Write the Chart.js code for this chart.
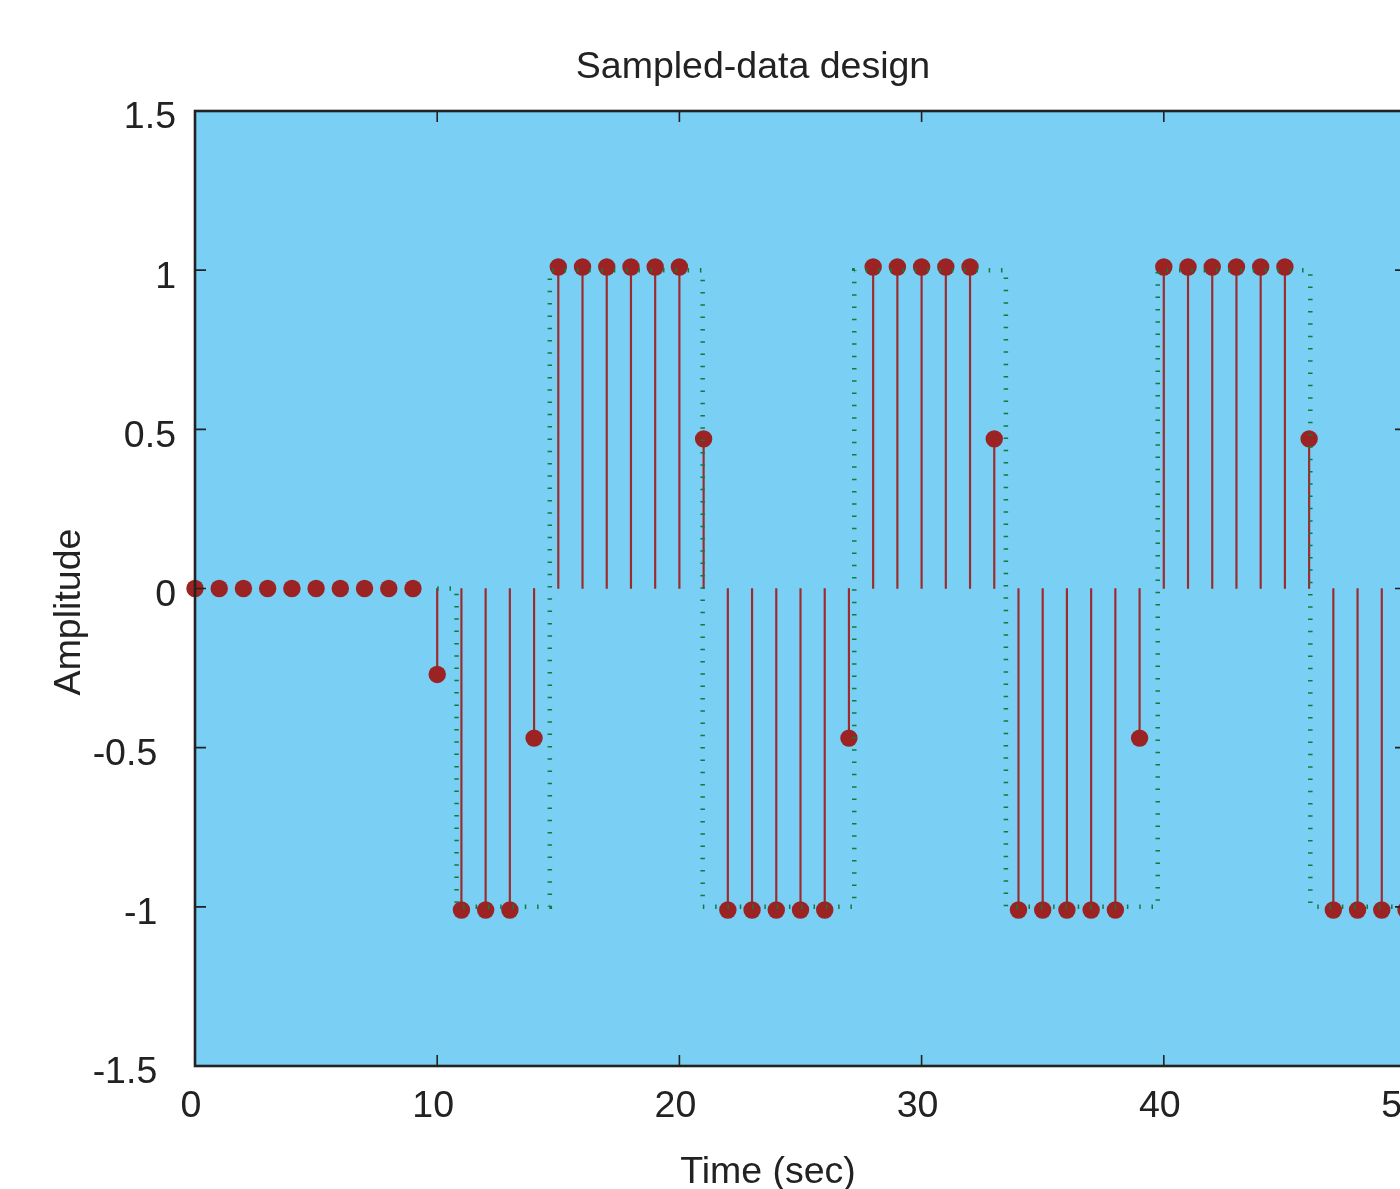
<!DOCTYPE html>
<html>
<head>
<meta charset="utf-8">
<script src="https://cdn.jsdelivr.net/npm/chart.js@4.4.1/dist/chart.umd.min.js"></script>
<style>
  html, body { margin: 0; padding: 0; background: #fff; overflow: hidden; }
  canvas { display: block; }
</style>
</head>
<body>
<canvas id="stem" width="1506" height="1189"></canvas>
<script>
// sample instants (sec)
const sampleTimes = [0,1,2,3,4,5,6,7,8,9,10,11,12,13,14,15,16,17,18,19,20,21,22,23,24,25,
  26,27,28,29,30,31,32,33,34,35,36,37,38,39,40,41,42,43,44,45,46,47,48,49,50];
const sampleValues = [0,0,0,0,0,0,0,0,0,0,-0.27,-1.01,-1.01,-1.01,-0.47,1.01,1.01,1.01,1.01,1.01,1.01,0.47,
  -1.01,-1.01,-1.01,-1.01,-1.01,-0.47,1.01,1.01,1.01,1.01,1.01,0.47,-1.01,-1.01,-1.01,-1.01,-1.01,-0.47,
  1.01,1.01,1.01,1.01,1.01,1.01,0.47,-1.01,-1.01,-1.01,-1.01];
// continuous reference signal (dotted), corner points
const refTimes  = [10, 10.8, 10.8, 14.65, 14.65, 20.96, 20.96, 27.22, 27.22, 33.48, 33.48, 39.75, 39.75, 46.05, 46.05, 50];
const refValues = [0, 0, -1, -1, 1, 1, -1, -1, 1, 1, -1, -1, 1, 1, -1, -1];

const xTicks = [0, 10, 20, 30, 40, 50];
const yTicks = [-1.5, -1, -0.5, 0, 0.5, 1, 1.5];

const FONT = "'Liberation Sans', Arial, Helvetica, sans-serif";
const FS = 37.5;
const INK = '#222222';

const samples = sampleTimes.map((t, i) => ({ x: t, y: sampleValues[i] }));
const reference = refTimes.map((t, i) => ({ x: t, y: refValues[i] }));

// light blue plot area, black frame, inward ticks on all sides, axis titles
const framePlugin = {
  id: 'frame',
  beforeDraw(chart) {
    const { ctx, chartArea: a } = chart;
    ctx.save();
    ctx.fillStyle = '#79cff4';
    ctx.fillRect(a.left, a.top, a.right - a.left, a.bottom - a.top);
    ctx.restore();
  },
  afterDraw(chart) {
    const { ctx, chartArea: a } = chart;
    const xs = chart.scales.x, ys = chart.scales.y;
    const len = 11;
    ctx.save();
    ctx.strokeStyle = INK;
    ctx.lineWidth = 1.6;
    ctx.beginPath();
    xs.ticks.forEach(t => {
      const px = xs.getPixelForValue(t.value);
      ctx.moveTo(px, a.bottom); ctx.lineTo(px, a.bottom - len);
      ctx.moveTo(px, a.top); ctx.lineTo(px, a.top + len);
    });
    ys.ticks.forEach(t => {
      const py = ys.getPixelForValue(t.value);
      ctx.moveTo(a.left, py); ctx.lineTo(a.left + len, py);
      ctx.moveTo(a.right, py); ctx.lineTo(a.right - len, py);
    });
    ctx.stroke();
    ctx.lineWidth = 2.6;
    ctx.strokeRect(a.left, a.top, a.right - a.left, a.bottom - a.top);

    ctx.fillStyle = INK;
    ctx.font = FS + 'px ' + FONT;
    ctx.textAlign = 'center';
    ctx.textBaseline = 'middle';
    ctx.fillText('Time (sec)', 768, 1173);
    ctx.translate(70, 612);
    ctx.rotate(-Math.PI / 2);
    ctx.fillText('Amplitude', 0, 0);
    ctx.restore();
  }
};

new Chart(document.getElementById('stem').getContext('2d'), {
  type: 'scatter',
  data: {
    datasets: [
      {
        type: 'line',
        label: 'reference',
        data: reference,
        borderColor: '#137a3c',
        borderWidth: 4.5,
        borderDash: [1.5, 10.8],
        pointRadius: 0,
        fill: false,
        tension: 0,
        order: 0,
      },
      {
        type: 'scatter',
        label: 'samples',
        data: samples,
        backgroundColor: '#9b2323',
        borderColor: '#9b2323',
        pointRadius: 8.7,
        pointHoverRadius: 8.7,
        borderWidth: 0,
        clip: false,
        order: 1,
      },
      {
        type: 'bar',
        label: 'stems',
        data: samples,
        backgroundColor: '#9e2a2a',
        barThickness: 1.5,
        order: 2,
      },
    ],
  },
  options: {
    responsive: false,
    animation: false,
    events: [],
    plugins: {
      legend: { display: false },
      tooltip: { enabled: false },
      title: {
        display: true,
        text: 'Sampled-data design',
        color: INK,
        font: { family: FONT, size: FS, weight: 'normal' },
        padding: { top: 45, bottom: 21 },
      },
    },
    scales: {
      x: {
        type: 'linear',
        min: 0,
        max: 50,
        offset: false,
        afterBuildTicks: s => { s.ticks = xTicks.map(v => ({ value: v })); },
        afterFit: s => { s.height = 123; },
        grid: { display: false, drawTicks: false },
        border: { display: false },
        ticks: {
          color: INK,
          font: { family: FONT, size: FS },
          padding: 18,
          labelOffset: -4,
          maxRotation: 0,
          callback: v => String(v),
        },
      },
      y: {
        type: 'linear',
        min: -1.5,
        max: 1.5,
        afterBuildTicks: s => { s.ticks = yTicks.map(v => ({ value: v })); },
        afterFit: s => { s.width = 195; },
        grid: { display: false, drawTicks: false },
        border: { display: false },
        ticks: {
          color: INK,
          font: { family: FONT, size: FS },
          padding: 19,
          labelOffset: 7,
          callback: v => v < 0 ? String(v) + '\u2002' : String(v),
        },
      },
      // empty right-hand axis: keeps the plot's right edge off the canvas edge
      yRight: {
        type: 'linear',
        position: 'right',
        min: -1.5,
        max: 1.5,
        afterFit: s => { s.width = 100; },
        grid: { display: false, drawTicks: false },
        border: { display: false },
        ticks: { display: false },
      },
    },
  },
  plugins: [framePlugin],
});
</script>
</body>
</html>
